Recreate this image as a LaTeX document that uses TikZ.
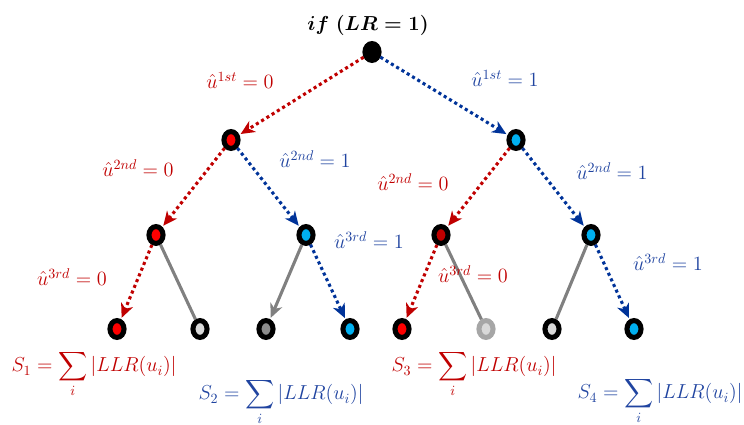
\documentclass[tikz,border=0pt]{standalone}
\usepackage{amsmath,amssymb}
\usepackage{xcolor}
\usetikzlibrary{shapes.geometric,arrows.meta}
\definecolor{tred}{RGB}{192,0,0}
\definecolor{tblue}{RGB}{32,68,160}
\definecolor{lblue}{RGB}{0,51,153}
\definecolor{fred}{RGB}{255,0,0}
\definecolor{fcyan}{RGB}{0,176,240}
\definecolor{lgray}{RGB}{128,128,128}

\begin{document}
\begin{tikzpicture}[x=0.025cm, y=-0.025cm,
    vtx/.style={ellipse, draw=black, line width=3.6pt, minimum width=10pt, minimum height=12pt, inner sep=0pt},
    zeroarrow/.style={-{Stealth[length=10pt,width=9pt,inset=3pt]}, draw=tred, line width=2.2pt, dash pattern=on 2.2pt off 2.2pt, shorten >=1pt},
    onearrow/.style={-{Stealth[length=10pt,width=9pt,inset=3pt]}, draw=lblue, line width=2.2pt, dash pattern=on 2.2pt off 2.2pt, shorten >=1pt},
    prune/.style={draw=lgray, line width=2.2pt},
    lbl/.style={font={\Large}, anchor=base, inner sep=0pt}
]
\useasboundingbox (0,0) rectangle (744,425);

\node[lbl] (title) at (368,31) {$\boldsymbol{if\ (LR=1)}$};

\node[vtx, fill=black] (root) at (372,52) {};
\node[vtx, fill=fred] (n0) at (231,140) {};
\node[vtx, fill=fcyan] (n1) at (516,140) {};
\node[vtx, fill=fred] (n00) at (156,235) {};
\node[vtx, fill=fcyan] (n01) at (306,235) {};
\node[vtx, fill=tred] (n10) at (441,235) {};
\node[vtx, fill=fcyan] (n11) at (591,235) {};
\node[vtx, fill=fred] (l000) at (117,329) {};
\node[vtx, fill=black!15] (l001) at (200,329) {};
\node[vtx, fill=black!45] (l010) at (266,329) {};
\node[vtx, fill=fcyan] (l011) at (350,329) {};
\node[vtx, fill=fred] (l100) at (402,329) {};
\node[vtx, draw=black!35, fill=black!15] (l101) at (486,329) {};
\node[vtx, fill=black!15] (l110) at (552,329) {};
\node[vtx, fill=fcyan] (l111) at (634,329) {};

\draw[zeroarrow] (root) -- (n0);
\draw[onearrow] (root) -- (n1);
\draw[zeroarrow] (n0) -- (n00);
\draw[onearrow] (n0) -- (n01);
\draw[zeroarrow] (n1) -- (n10);
\draw[onearrow] (n1) -- (n11);
\draw[zeroarrow] (n00) -- (l000);
\draw[prune] (n00) -- (l001);
\draw[prune, -{Stealth[length=10pt,width=9pt,inset=3pt]}, shorten >=1pt] (n01) -- (l010);
\draw[onearrow] (n01) -- (l011);
\draw[zeroarrow] (n10) -- (l100);
\draw[prune] (n10) -- (l101);
\draw[prune] (n11) -- (l110);
\draw[onearrow] (n11) -- (l111);

\node[lbl, text=tred] (u1a) at (240,89) {$\hat{u}^{1st}=0$};
\node[lbl, text=tblue] (u1b) at (505,87) {$\hat{u}^{1st}=1$};
\node[lbl, text=tred] (u2a) at (138,177) {$\hat{u}^{2nd}=0$};
\node[lbl, text=tblue] (u2b) at (315,168) {$\hat{u}^{2nd}=1$};
\node[lbl, text=tred] (u2c) at (413,191) {$\hat{u}^{2nd}=0$};
\node[lbl, text=tblue] (u2d) at (612,180) {$\hat{u}^{2nd}=1$};
\node[lbl, text=tred] (u3a) at (72,286) {$\hat{u}^{3rd}=0$};
\node[lbl, text=tblue] (u3b) at (369,249) {$\hat{u}^{3rd}=1$};
\node[lbl, text=tred] (u3c) at (473,283) {$\hat{u}^{3rd}=0$};
\node[lbl, text=tblue] (u3d) at (668,271) {$\hat{u}^{3rd}=1$};

\node[lbl, text=tred] (s1) at (94,372) {$S_1=\displaystyle\sum_i|LLR(u_i)|$};
\node[lbl, text=tblue] (s2) at (281,400) {$S_2=\displaystyle\sum_i|LLR(u_i)|$};
\node[lbl, text=tred] (s3) at (474,372) {$S_3=\displaystyle\sum_i|LLR(u_i)|$};
\node[lbl, text=tblue] (s4) at (660,399) {$S_4=\displaystyle\sum_i|LLR(u_i)|$};
\end{tikzpicture}
\end{document}
